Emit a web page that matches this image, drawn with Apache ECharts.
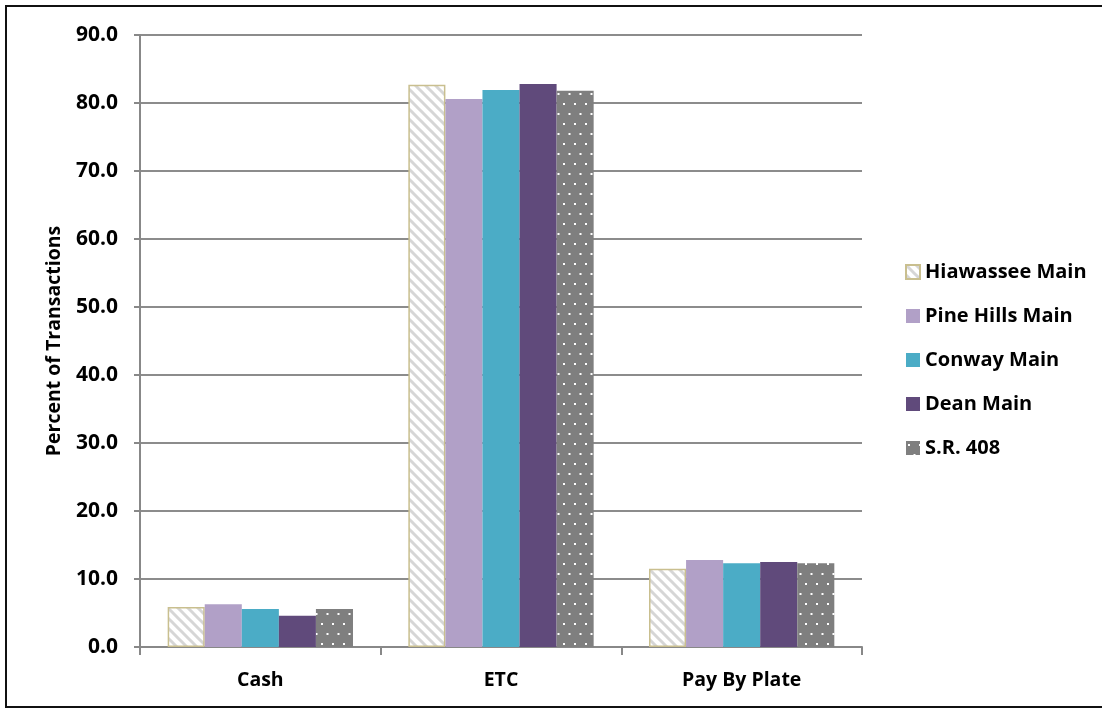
<!DOCTYPE html>
<html><head><meta charset="utf-8">
<script src="https://cdn.jsdelivr.net/npm/echarts@6/dist/echarts.min.js"></script>
<style>html,body{margin:0;padding:0;background:#fff}#c{width:1102px;height:709px}</style>
</head><body><div id="c"></div>
<script>
const categories = ['Cash', 'ETC', 'Pay By Plate'];
const seriesNames = ['Hiawassee Main', 'Pine Hills Main', 'Conway Main', 'Dean Main', 'S.R. 408'];
const hiawassee = [5.9, 82.7, 11.5];
const pineHills = [6.3, 80.6, 12.8];
const conway = [5.6, 81.9, 12.3];
const dean = [4.6, 82.8, 12.5];
const sr408 = [5.6, 81.8, 12.3];
const yTicks = [0, 10, 20, 30, 40, 50, 60, 70, 80, 90];

function stripePattern() {
  const c = document.createElement('canvas'); c.width = 10; c.height = 10;
  const g = c.getContext('2d');
  g.fillStyle = '#ffffff'; g.fillRect(0, 0, 10, 10);
  g.strokeStyle = '#d6d6d6'; g.lineWidth = 3;
  for (let k = -2; k <= 2; k++) {
    g.beginPath(); g.moveTo(k * 10 - 5, -5); g.lineTo(k * 10 + 15, 15); g.stroke();
  }
  return c;
}
function dotPattern() {
  const c = document.createElement('canvas'); c.width = 11; c.height = 20;
  const g = c.getContext('2d');
  g.fillStyle = '#7f7f7f'; g.fillRect(0, 0, 11, 20);
  g.fillStyle = '#ffffff';
  g.fillRect(2, 3, 2, 2);
  g.fillRect(7.5, 13, 2, 2);
  return c;
}

const chart = echarts.init(document.getElementById('c'), null, {renderer: 'canvas'});
const font = '"Open Sans", "Liberation Sans", sans-serif';
const datas = [hiawassee, pineHills, conway, dean, sr408];
const styles = [
  {color: {image: stripePattern(), repeat: 'repeat'}, borderColor: '#c9bf8f', borderWidth: 1.5},
  {color: '#b1a0c7'},
  {color: '#4bacc6'},
  {color: '#604a7b'},
  {color: {image: dotPattern(), repeat: 'repeat'}}
];
chart.setOption({
  animation: false,
  textStyle: {fontFamily: font},
  graphic: [{type: 'rect', shape: {x: 6, y: 6, width: 1100, height: 701}, style: {fill: 'none', stroke: '#111', lineWidth: 2}, silent: true}],
  grid: {left: 140, right: 240, top: 35, bottom: 62},
  legend: {
    orient: 'vertical', left: 900, top: 257, itemWidth: 14, itemHeight: 14, itemGap: 24,
    icon: 'rect',
    textStyle: {fontSize: 20, fontWeight: 'bold', color: '#000', fontFamily: font, lineHeight: 20},
    data: seriesNames
  },
  xAxis: {
    type: 'category', data: categories,
    axisLine: {lineStyle: {color: '#888', width: 2}},
    axisTick: {show: true, length: 8, lineStyle: {color: '#888', width: 2}},
    axisLabel: {fontSize: 19.5, fontWeight: 'bold', color: '#000', margin: 23, fontFamily: font}
  },
  yAxis: {
    type: 'value', min: yTicks[0], max: yTicks[yTicks.length - 1], interval: 10,
    name: 'Percent of Transactions', nameLocation: 'middle', nameGap: 76,
    nameTextStyle: {fontSize: 19.5, fontWeight: 'bold', color: '#000', fontFamily: font},
    axisLine: {show: true, lineStyle: {color: '#888', width: 2}},
    axisTick: {show: true, length: 6, lineStyle: {color: '#888', width: 2}},
    axisLabel: {fontSize: 21, fontWeight: 'bold', color: '#000', margin: 22, fontFamily: font,
      formatter: v => v.toFixed(1)},
    splitLine: {lineStyle: {color: '#8c8c8c', width: 2}}
  },
  series: seriesNames.map((n, i) => ({
    name: n, type: 'bar', data: datas[i], barGap: '0%', barCategoryGap: '23%',
    itemStyle: styles[i]
  }))
});
</script></body></html>
